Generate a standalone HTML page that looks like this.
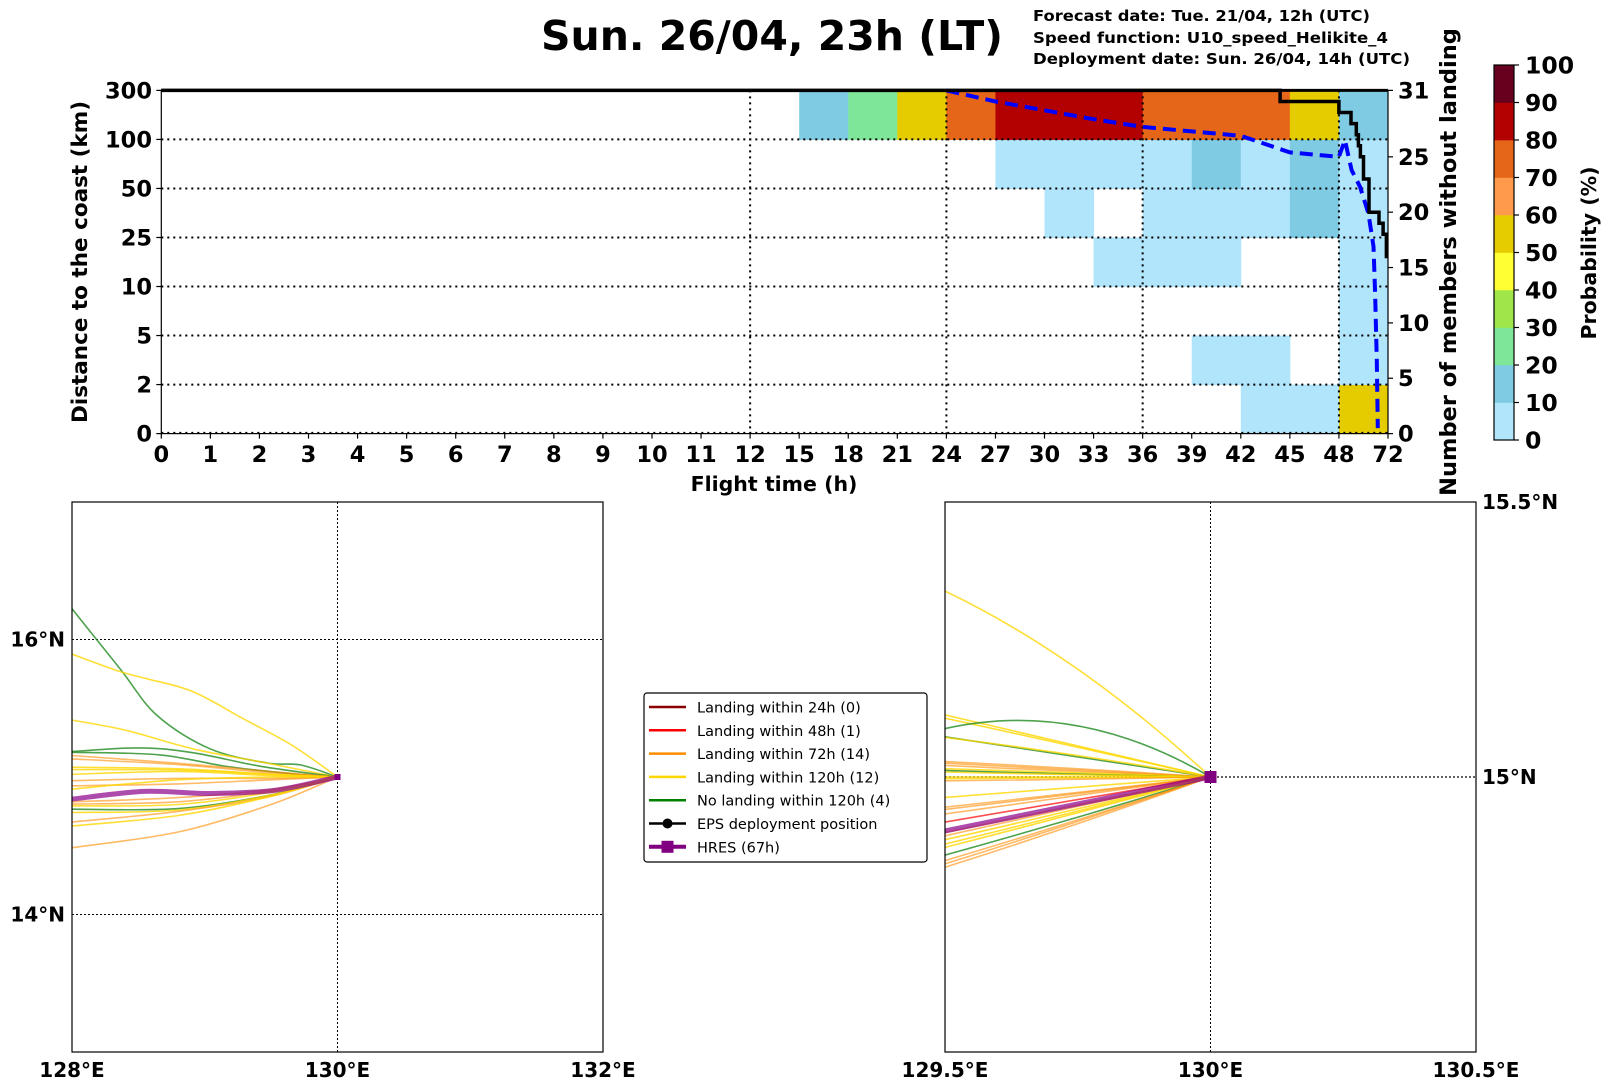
<!DOCTYPE html>
<html><head><meta charset="utf-8">
<style>
html,body{margin:0;padding:0;background:#fff;}
svg{display:block;font-family:"DejaVu Sans","Liberation Sans",sans-serif;}
</style></head>
<body>
<svg id="chart" xmlns="http://www.w3.org/2000/svg" width="1611" height="1088" viewBox="0 0 1611 1088">
<text x="541" y="50" font-size="41" font-weight="bold" textLength="462" lengthAdjust="spacingAndGlyphs">Sun. 26/04, 23h (LT)</text>
<g font-size="15.5" font-weight="bold">
<text x="1033" y="21" textLength="337" lengthAdjust="spacingAndGlyphs">Forecast date: Tue. 21/04, 12h (UTC)</text>
<text x="1033" y="43" textLength="355" lengthAdjust="spacingAndGlyphs">Speed function: U10_speed_Helikite_4</text>
<text x="1033" y="64" textLength="377" lengthAdjust="spacingAndGlyphs">Deployment date: Sun. 26/04, 14h (UTC)</text>
</g>
<g id="heat"></g>
<g id="cbar"></g>
<g id="mapL"></g>
<g id="mapR"></g>
<g id="legend"></g>
</svg>
<script>
// ---------- heatmap data ----------
const xTickLabels = [0,1,2,3,4,5,6,7,8,9,10,11,12,15,18,21,24,27,30,33,36,39,42,45,48,72];
const yTickLabels = ["0","2","5","10","25","50","100","300"];
const rightTicks = [0,5,10,15,20,25,31];
const maxMembers = 31;
const row0 = [null,null,null,null,null,null,null,null,null,null,null,null,null,null,null,null,null,null,null,null,null,null,5,5,55];
const row1 = [null,null,null,null,null,null,null,null,null,null,null,null,null,null,null,null,null,null,null,null,null,5,5,null,5];
const row2 = [null,null,null,null,null,null,null,null,null,null,null,null,null,null,null,null,null,null,null,null,null,null,null,null,5];
const row3 = [null,null,null,null,null,null,null,null,null,null,null,null,null,null,null,null,null,null,null,5,5,5,null,null,5];
const row4 = [null,null,null,null,null,null,null,null,null,null,null,null,null,null,null,null,null,null,5,null,5,5,5,15,5];
const row5 = [null,null,null,null,null,null,null,null,null,null,null,null,null,null,null,null,null,5,5,5,5,15,5,15,5];
const row6 = [null,null,null,null,null,null,null,null,null,null,null,null,null,15,25,55,75,85,85,85,75,75,75,55,15];
const stepHours  = [0,44.4,48,53.9,56.5,57.5,58.5,60,62.7,67.6,69.6,71.2,72];
const stepCounts = [31,30,29,28,27,26,25,23,20,19,18,16,16];
const dashHours  = [24,27,30,33,36,39,42,45,48,50.9,54.2,58.3,62.4,64.9,65.7,66.5,67];
const dashValues = [31,30,29.2,28.4,27.7,27.3,26.9,25.4,25.0,26.5,23.8,22.3,19.9,16.9,12.7,6.6,0.5];
const cbarTicks = [0,10,20,30,40,50,60,70,80,90,100];
const cbarColors = ["#b0e5fb","#7fcbe3","#7ee698","#9ee64a","#ffff33","#e5cc00","#ff9a4d","#e56618","#b30000","#67001f"];

// ---------- map data ----------
const leftTraj = [
 ["g",[[128,16.223],[128.36,15.789],[128.64,15.448],[129.04,15.205],[129.47,15.102],[129.72,15.088],[130,15]]],
 ["y",[[128,15.894],[128.36,15.767],[128.56,15.716],[128.91,15.621],[129.29,15.424],[129.66,15.229],[130,15]]],
 ["y",[[128,15.414],[128.41,15.339],[128.91,15.205],[129.42,15.110],[130,15]]],
 ["g",[[128,15.185],[128.51,15.212],[128.91,15.177],[129.42,15.078],[130,15]]],
 ["g",[[128,15.180],[128.66,15.161],[129.17,15.076],[129.7,15.02],[130,15]]],
 ["o",[[128,15.156],[128.8,15.10],[129.5,15.04],[130,15]]],
 ["o",[[128,15.132],[128.8,15.09],[129.5,15.03],[130,15]]],
 ["y",[[128,15.071],[128.8,15.06],[129.5,15.02],[130,15]]],
 ["y",[[128,15.054],[128.8,15.05],[129.5,15.02],[130,15]]],
 ["y",[[128,15.02],[128.8,15.04],[129.5,15.01],[130,15]]],
 ["o",[[128,14.973],[128.8,14.99],[129.5,14.99],[130,15]]],
 ["o",[[128,14.936],[128.8,14.95],[129.5,14.98],[130,15]]],
 ["y",[[128,14.912],[128.8,14.98],[129.5,15.0],[130,15]]],
 ["o",[[128,14.820],[128.8,14.85],[129.5,14.91],[130,15]]],
 ["o",[[128,14.803],[128.8,14.82],[129.5,14.90],[130,15]]],
 ["y",[[128,14.79],[128.8,14.80],[129.5,14.89],[130,15]]],
 ["g",[[128,14.766],[128.8,14.77],[129.5,14.87],[130,15]]],
 ["y",[[128,14.742],[128.8,14.76],[129.5,14.87],[130,15]]],
 ["o",[[128,14.673],[128.8,14.75],[129.5,14.86],[130,15]]],
 ["y",[[128,14.644],[128.8,14.72],[129.5,14.86],[130,15]]],
 ["o",[[128,14.486],[128.8,14.60],[129.5,14.80],[130,15]]]
];
const leftHres = [[128,14.839],[128.54,14.895],[129.04,14.88],[129.54,14.905],[130,15]];
const rightTraj = [
 ["y",15.338,15.196],["y",15.113,15.057],["y",15.107,15.054],["g",15.088,15.093],
 ["g",15.073,15.036],["y",15.072,15.039],["o",15.028,15.015],["o",15.025,15.013],
 ["o",15.021,15.010],["y",15.015,15.007],["g",15.012,15.005],["y",15.009,15.004],
 ["y",15.0,15.0],["y",14.997,14.998],["o",14.993,14.996],["y",14.963,14.981],
 ["o",14.945,14.972],["o",14.941,14.970],["o",14.933,14.966],["r",14.918,14.959],
 ["o",14.899,14.949],["o",14.893,14.947],["y",14.886,14.942],["y",14.878,14.938],
 ["y",14.872,14.935],["g",14.858,14.927],["o",14.848,14.922],["o",14.842,14.919],["o",14.836,14.915]
];
const rightHres = [14.902,14.951];
const legendLabels = ["Landing within 24h (0)","Landing within 48h (1)","Landing within 72h (14)","Landing within 120h (12)","No landing within 120h (4)","EPS deployment position","HRES (67h)"];

// ---------- helpers ----------
const NS="http://www.w3.org/2000/svg";
function mk(tag, parent, attrs){const e=document.createElementNS(NS,tag);for(const k in attrs)e.setAttribute(k,attrs[k]);parent.appendChild(e);return e;}
const colMap={g:"rgba(34,139,34,0.8)",y:"rgba(255,215,0,0.8)",o:"rgba(255,140,0,0.6)",r:"rgba(255,0,0,0.7)"};

// ---------- heatmap ----------
const H=document.getElementById('heat');
const X0=161.3,X1=1388,Y0=433.6,Y1=90.4;
const nCols=25,colW=(X1-X0)/nCols,rowH=(Y0-Y1)/7;
function idxX(i){return X0+i*colW;}
function hourX(h){let i;if(h<=12)i=h;else if(h<=48)i=12+(h-12)/3;else i=24+(h-48)/24;return idxX(i);}
function rowY(r){return Y0-r*rowH;}
function rightY(v){return Y0-v*(Y0-Y1)/maxMembers;}
function probColor(p){return cbarColors[Math.min(9,Math.floor(p/10))];}
const rows=[row0,row1,row2,row3,row4,row5,row6];
rows.forEach((row,r)=>{row.forEach((v,c)=>{if(v===null)return;
 const e=mk('rect',H,{x:idxX(c),y:rowY(r+1),width:colW+0.5,height:rowH+0.5,fill:probColor(v)});
 
 
});});
for(let r=1;r<7;r++){const e=mk('line',H,{x1:X0,x2:X1,y1:rowY(r),y2:rowY(r),stroke:"#000","stroke-width":2,"stroke-dasharray":"2,4"});}
mk('line',H,{x1:X0,x2:X1,y1:Y0-1,y2:Y0-1,stroke:"#000","stroke-width":1.5,"stroke-dasharray":"2,4"});
[12,24,36,48].forEach(h=>{const e=mk('line',H,{x1:hourX(h),x2:hourX(h),y1:Y1,y2:Y0,stroke:"#000","stroke-width":2,"stroke-dasharray":"2,4"});});
let dp=dashHours.map((h,i)=>(i?'L':'M')+hourX(h).toFixed(1)+','+rightY(dashValues[i]).toFixed(1)).join('');
const dl=mk('path',H,{d:dp,fill:"none",stroke:"#0000ff","stroke-width":4,"stroke-dasharray":"13,7"});


let sp='M'+hourX(stepHours[0])+','+rightY(stepCounts[0]);
for(let i=1;i<stepHours.length;i++){sp+='L'+hourX(stepHours[i]).toFixed(1)+','+rightY(stepCounts[i-1]).toFixed(1)+'L'+hourX(stepHours[i]).toFixed(1)+','+rightY(stepCounts[i]).toFixed(1);}
const sl=mk('path',H,{d:sp,fill:"none",stroke:"#000","stroke-width":3.5});


mk('rect',H,{x:X0,y:Y1,width:X1-X0,height:Y0-Y1,fill:"none",stroke:"#000","stroke-width":1.2});
mk('line',H,{x1:X0,x2:X1,y1:Y1,y2:Y1,stroke:"#000","stroke-width":3});
xTickLabels.forEach((l,i)=>{const x=idxX(i);mk('line',H,{x1:x,x2:x,y1:Y0,y2:Y0+5,stroke:"#000","stroke-width":1.2});
 const t=mk('text',H,{x:x,y:462,"text-anchor":"middle","font-size":22.5,"font-weight":"bold"});t.textContent=l;
 });
yTickLabels.forEach((l,r)=>{const y=rowY(r);mk('line',H,{x1:X0-5,x2:X0,y1:y,y2:y,stroke:"#000","stroke-width":1.2});
 const t=mk('text',H,{x:152,y:y+8,"text-anchor":"end","font-size":22.5,"font-weight":"bold"});t.textContent=l;
 });
rightTicks.forEach(v=>{const y=rightY(v);mk('line',H,{x1:X1,x2:X1+5,y1:y,y2:y,stroke:"#000","stroke-width":1.2});
 const t=mk('text',H,{x:1398,y:y+8,"font-size":22.5,"font-weight":"bold"});t.textContent=v;
 });
let t;
t=mk('text',H,{x:774,y:491,"text-anchor":"middle","font-size":20.5,"font-weight":"bold"});t.textContent="Flight time (h)";

t=mk('text',H,{x:0,y:0,"text-anchor":"middle","font-size":21.5,"font-weight":"bold",transform:"translate(87,262) rotate(-90)"});t.textContent="Distance to the coast (km)";

t=mk('text',H,{x:0,y:0,"text-anchor":"middle","font-size":22.5,"font-weight":"bold",transform:"translate(1456,262) rotate(-90)"});t.textContent="Number of members without landing";


// ---------- colorbar ----------
const C=document.getElementById('cbar');
const CX=1494,CW=20,CT=65,CB=440,seg=(CB-CT)/10;
cbarColors.forEach((c,i)=>{const e=mk('rect',C,{x:CX,y:CB-(i+1)*seg,width:CW,height:seg+0.3,fill:c});});
mk('rect',C,{x:CX,y:CT,width:CW,height:CB-CT,fill:"none",stroke:"#000","stroke-width":1.2});
cbarTicks.forEach((v,i)=>{const y=CB-i*seg;mk('line',C,{x1:CX+CW,x2:CX+CW+5,y1:y,y2:y,stroke:"#000","stroke-width":1.2});
 const tt=mk('text',C,{x:1525,y:y+8.5,"font-size":23.5,"font-weight":"bold"});tt.textContent=v;
 });
t=mk('text',C,{x:0,y:0,"text-anchor":"middle","font-size":20.5,"font-weight":"bold",transform:"translate(1596,253) rotate(-90)"});t.textContent="Probability (%)";


// ---------- maps ----------
function smoothPath(pts){let d='M'+pts[0][0].toFixed(1)+','+pts[0][1].toFixed(1);
 for(let i=0;i<pts.length-1;i++){const p0=pts[Math.max(0,i-1)],p1=pts[i],p2=pts[i+1],p3=pts[Math.min(pts.length-1,i+2)];
  const c1=[p1[0]+(p2[0]-p0[0])/6,p1[1]+(p2[1]-p0[1])/6],c2=[p2[0]-(p3[0]-p1[0])/6,p2[1]-(p3[1]-p1[1])/6];
  d+='C'+c1[0].toFixed(1)+','+c1[1].toFixed(1)+' '+c2[0].toFixed(1)+','+c2[1].toFixed(1)+' '+p2[0].toFixed(1)+','+p2[1].toFixed(1);}
 return d;}
function setupMap(g,id,x0,x1,y0,y1,lon0,lon1,lat0,lat1){
 const sx=lon=>x0+(lon-lon0)*(x1-x0)/(lon1-lon0), sy=lat=>y1-(lat-lat0)*(y1-y0)/(lat1-lat0);
 const cp=mk('clipPath',g,{id:id});mk('rect',cp,{x:x0,y:y0,width:x1-x0,height:y1-y0});
 const inner=mk('g',g,{"clip-path":"url(#"+id+")"});
 return {sx,sy,inner};}
const ML=document.getElementById('mapL');
const L=setupMap(ML,'clipL',72,603,502,1052,128,132,13,17);
mk('line',L.inner,{x1:L.sx(130),x2:L.sx(130),y1:502,y2:1052,stroke:"#000","stroke-width":1,"stroke-dasharray":"2,2"});
[14,16].forEach(la=>mk('line',L.inner,{x1:72,x2:603,y1:L.sy(la),y2:L.sy(la),stroke:"#000","stroke-width":1,"stroke-dasharray":"2,2"}));
leftTraj.forEach(tr=>{const e=mk('path',L.inner,{d:smoothPath(tr[1].map(p=>[L.sx(p[0]),L.sy(p[1])])),fill:"none",stroke:colMap[tr[0]],"stroke-width":1.6});
 });
let hp=mk('path',L.inner,{d:smoothPath(leftHres.map(p=>[L.sx(p[0]),L.sy(p[1])])),fill:"none",stroke:"rgba(139,0,139,0.7)","stroke-width":5});

mk('rect',L.inner,{x:L.sx(130)-3,y:L.sy(15)-3,width:6,height:6,fill:"#800080"});
mk('rect',ML,{x:72,y:502,width:531,height:550,fill:"none",stroke:"#000","stroke-width":1.2});
[[128,"128°E"],[130,"130°E"],[132,"132°E"]].forEach(a=>{const tt=mk('text',ML,{x:L.sx(a[0]),y:1077,"text-anchor":"middle","font-size":20,"font-weight":"bold"});tt.textContent=a[1];});
[[16,"16°N"],[14,"14°N"]].forEach(a=>{const tt=mk('text',ML,{x:65,y:L.sy(a[0])+7,"text-anchor":"end","font-size":20,"font-weight":"bold"});tt.textContent=a[1];});
const MR=document.getElementById('mapR');
const R=setupMap(MR,'clipR',945,1476,502,1052,129.5,130.5,14.5,15.5);
mk('line',R.inner,{x1:R.sx(130),x2:R.sx(130),y1:502,y2:1052,stroke:"#000","stroke-width":1,"stroke-dasharray":"2,2"});
mk('line',R.inner,{x1:945,x2:1476,y1:R.sy(15),y2:R.sy(15),stroke:"#000","stroke-width":1.2,"stroke-dasharray":"2,2"});
function quadThrough(a,m,b){const c=[2*m[0]-(a[0]+b[0])/2,2*m[1]-(a[1]+b[1])/2];return 'M'+a[0].toFixed(1)+','+a[1].toFixed(1)+'Q'+c[0].toFixed(1)+','+c[1].toFixed(1)+' '+b[0].toFixed(1)+','+b[1].toFixed(1);}
rightTraj.forEach(tr=>{const e=mk('path',R.inner,{d:quadThrough([R.sx(129.5),R.sy(tr[1])],[R.sx(129.75),R.sy(tr[2])],[R.sx(130),R.sy(15)]),fill:"none",stroke:colMap[tr[0]],"stroke-width":1.6});
 });
hp=mk('path',R.inner,{d:quadThrough([R.sx(129.5),R.sy(rightHres[0])],[R.sx(129.75),R.sy(rightHres[1])],[R.sx(130),R.sy(15)]),fill:"none",stroke:"rgba(139,0,139,0.7)","stroke-width":5});

const mkR=mk('rect',R.inner,{x:R.sx(130)-6,y:R.sy(15)-6,width:12,height:12,fill:"#800080"});

mk('rect',MR,{x:945,y:502,width:531,height:550,fill:"none",stroke:"#000","stroke-width":1.2});
[[129.5,"129.5°E"],[130,"130°E"],[130.5,"130.5°E"]].forEach(a=>{const tt=mk('text',MR,{x:R.sx(a[0]),y:1077,"text-anchor":"middle","font-size":20,"font-weight":"bold"});tt.textContent=a[1];});
[[15.5,"15.5°N"],[15,"15°N"]].forEach(a=>{const tt=mk('text',MR,{x:1482,y:R.sy(a[0])+7,"font-size":20,"font-weight":"bold"});tt.textContent=a[1];});

// ---------- legend ----------
const G=document.getElementById('legend');
mk('rect',G,{x:644,y:693,width:283,height:169,rx:3,fill:"#fff",stroke:"#000","stroke-width":1.2});
const legColors=["#8b0000","#ff0000","#ff8c00","#ffd700","#008000","#000","#800080"];
legendLabels.forEach((l,i)=>{const y=707+i*23.3;
 mk('line',G,{x1:649,x2:686,y1:y,y2:y,stroke:legColors[i],"stroke-width":i==6?4:2.5});
 if(i==5)mk('circle',G,{cx:667.5,cy:y,r:5,fill:"#000"});
 if(i==6)mk('rect',G,{x:661.5,y:y-6,width:12,height:12,fill:"#800080"});
 const tt=mk('text',G,{x:697,y:y+5.5,"font-size":14.5});tt.textContent=l;
 });
</script>
</body></html>
